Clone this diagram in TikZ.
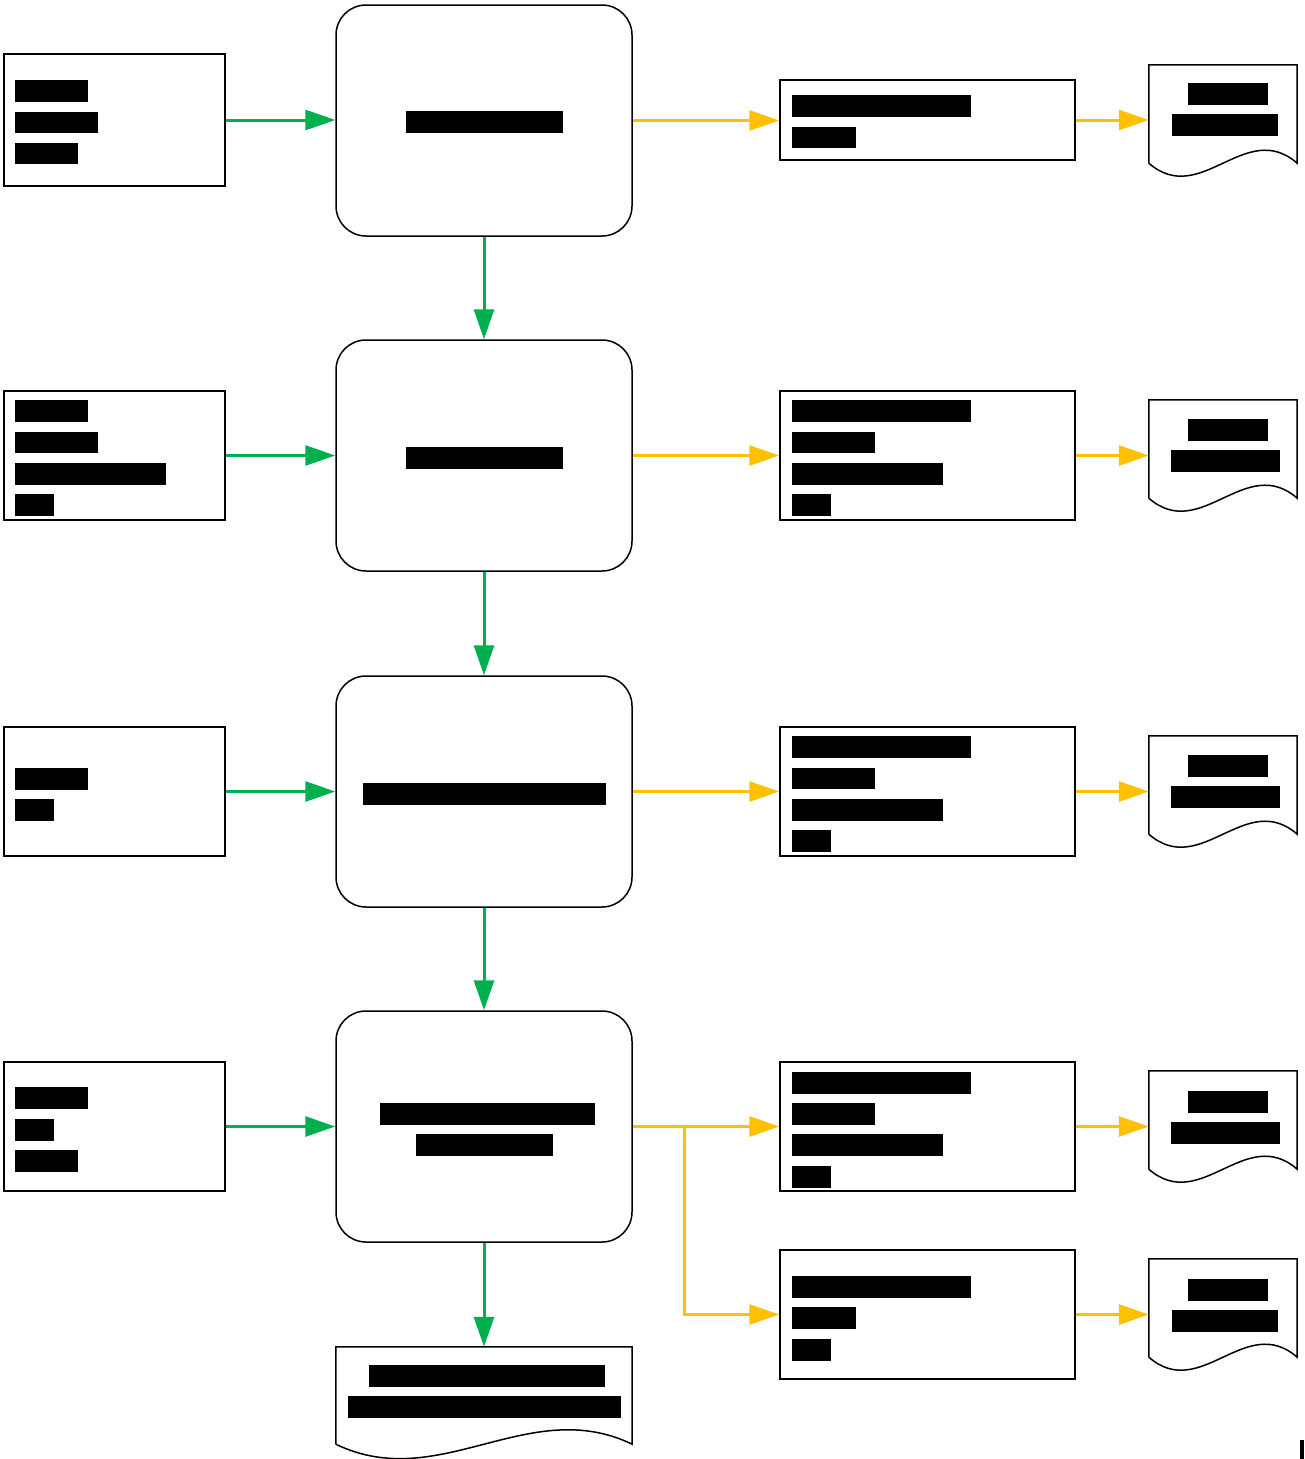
\documentclass[tikz,border=0pt]{standalone}
\usetikzlibrary{arrows.meta}
\definecolor{flowgreen}{HTML}{00B050}
\definecolor{flowyellow}{HTML}{FFC000}
\newcommand\blk[4]{\fill[black] (#1,#2) rectangle (#3,#4);}
\newcommand\docpath[2]{% node name, dip amount
  \draw[line width=1.5pt] (#1.south west) -- (#1.north west) -- (#1.north east) -- (#1.south east)
    .. controls ($(#1.south west)!0.65!(#1.south east)+(0,-#2)$) and ($(#1.south west)!0.35!(#1.south east)+(0,#2)$) .. (#1.south west);}
\usetikzlibrary{calc}
\begin{document}
\begin{tikzpicture}[x=1pt,y=-1pt,
  box/.style={draw,line width=1.5pt,rectangle,inner sep=0pt},
  proc/.style={draw,line width=1.5pt,rectangle,rounded corners=30pt,inner sep=0pt,minimum width=296pt,minimum height=231pt},
  docarea/.style={rectangle,inner sep=0pt,draw=none},
  garrow/.style={draw=flowgreen,line width=3pt,-{Triangle[length=30pt,width=20pt]}},
  yarrow/.style={draw=flowyellow,line width=3pt,-{Triangle[length=30pt,width=20pt]}}]
\useasboundingbox (0,0) rectangle (1304,1459);
% left boxes
\node[box,minimum width=221pt,minimum height=132pt] (lb1) at (114.5,120) {};
\node[box,minimum width=221pt,minimum height=129pt] (lb2) at (114.5,455.5) {};
\node[box,minimum width=221pt,minimum height=129pt] (lb3) at (114.5,791.5) {};
\node[box,minimum width=221pt,minimum height=129pt] (lb4) at (114.5,1126.5) {};
% process boxes
\node[proc] (cb1) at (484,120.5) {};
\node[proc] (cb2) at (484,455.5) {};
\node[proc] (cb3) at (484,791.5) {};
\node[proc] (cb4) at (484,1126.5) {};
% right boxes
\node[box,minimum width=295pt,minimum height=80pt] (rb1) at (927.5,120) {};
\node[box,minimum width=295pt,minimum height=129pt] (rb2) at (927.5,455.5) {};
\node[box,minimum width=295pt,minimum height=129pt] (rb3) at (927.5,791.5) {};
\node[box,minimum width=295pt,minimum height=129pt] (rb4) at (927.5,1126.5) {};
\node[box,minimum width=295pt,minimum height=129pt] (rb5) at (927.5,1314.5) {};
% documents
\node[docarea,minimum width=148pt,minimum height=98pt] (d1) at (1223,114) {};
\node[docarea,minimum width=148pt,minimum height=98pt] (d2) at (1223,449) {};
\node[docarea,minimum width=148pt,minimum height=98pt] (d3) at (1223,785) {};
\node[docarea,minimum width=148pt,minimum height=98pt] (d4) at (1223,1120) {};
\node[docarea,minimum width=148pt,minimum height=98pt] (d5) at (1223,1308) {};
\node[docarea,minimum width=296pt,minimum height=97pt] (bd) at (484,1395.5) {};
\docpath{d1}{45}
\docpath{d2}{45}
\docpath{d3}{45}
\docpath{d4}{45}
\docpath{d5}{45}
\docpath{bd}{50}
% green arrows
\draw[garrow] (lb1.east) -- (lb1.east -| cb1.west);
\draw[garrow] (lb2.east) -- (lb2.east -| cb2.west);
\draw[garrow] (lb3.east) -- (lb3.east -| cb3.west);
\draw[garrow] (lb4.east) -- (lb4.east -| cb4.west);
\draw[garrow] (cb1.south) -- (cb2.north);
\draw[garrow] (cb2.south) -- (cb3.north);
\draw[garrow] (cb3.south) -- (cb4.north);
\draw[garrow] (cb4.south) -- (bd.north);
% yellow arrows
\draw[yarrow] (cb1.east) -- (cb1.east -| rb1.west);
\draw[yarrow] (cb2.east) -- (cb2.east -| rb2.west);
\draw[yarrow] (cb3.east) -- (cb3.east -| rb3.west);
\draw[yarrow] (cb4.east) -- (cb4.east -| rb4.west);
\coordinate (split) at (684,1126.5);
\draw[yarrow] (split) -- (split |- rb5.west) -- (rb5.west);
\draw[yarrow] (rb1.east) -- (rb1.east -| d1.west);
\draw[yarrow] (rb2.east) -- (rb2.east -| d2.west);
\draw[yarrow] (rb3.east) -- (rb3.east -| d3.west);
\draw[yarrow] (rb4.east) -- (rb4.east -| d4.west);
\draw[yarrow] (rb5.east) -- (rb5.east -| d5.west);
% redacted text bars: left boxes
\blk{15}{80}{88}{102}\blk{15}{112}{98}{133}\blk{15}{143}{78}{164}
\blk{15}{400}{88}{422}\blk{15}{432}{98}{453}\blk{15}{463}{166}{485}\blk{15}{494}{54}{516}
\blk{15}{768}{88}{790}\blk{15}{799}{54}{821}
\blk{15}{1087}{88}{1109}\blk{15}{1119}{54}{1141}\blk{15}{1150}{78}{1172}
% process boxes
\blk{406}{111}{563}{133}
\blk{406}{447}{563}{469}
\blk{363}{783}{606}{805}
\blk{380}{1103}{595}{1125}\blk{416}{1134}{553}{1156}
% bottom document
\blk{369}{1365}{605}{1387}\blk{348}{1396}{621}{1418}
% right boxes
\blk{792}{95}{971}{117}\blk{792}{127}{856}{148}
\blk{792}{400}{971}{422}\blk{792}{432}{875}{453}\blk{792}{463}{943}{485}\blk{792}{494}{831}{516}
\blk{792}{736}{971}{758}\blk{792}{768}{875}{789}\blk{792}{799}{943}{821}\blk{792}{830}{831}{852}
\blk{792}{1072}{971}{1094}\blk{792}{1103}{875}{1125}\blk{792}{1134}{943}{1156}\blk{792}{1166}{831}{1188}
\blk{792}{1276}{971}{1298}\blk{792}{1307}{856}{1329}\blk{792}{1339}{831}{1361}
% documents
\blk{1188}{83}{1268}{105}\blk{1172}{114}{1278}{136}
\blk{1188}{419}{1268}{441}\blk{1171}{450}{1280}{472}
\blk{1188}{755}{1268}{777}\blk{1171}{786}{1280}{808}
\blk{1188}{1091}{1268}{1113}\blk{1171}{1122}{1280}{1144}
\blk{1188}{1279}{1268}{1301}\blk{1172}{1310}{1278}{1332}
% corner mark
\blk{1300}{1440}{1304}{1459}
\end{tikzpicture}
\end{document}
